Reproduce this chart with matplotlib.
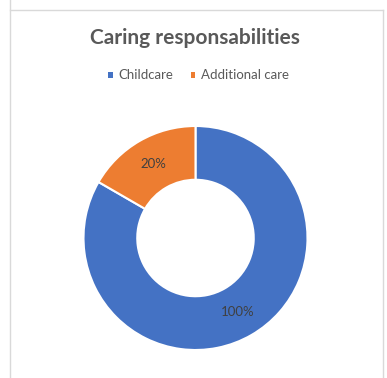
import matplotlib
matplotlib.use("Agg")
import matplotlib.pyplot as plt
from matplotlib.lines import Line2D
from matplotlib.patches import Rectangle

categories = ["Childcare", "Additional care"]
values = [100, 20]
colors = ["#4472C4", "#ED7D31"]
title = "Caring responsabilities"

W, H = 387, 378
fig = plt.figure(figsize=(W / 100, H / 100), dpi=100)
fig.patch.set_facecolor("white")

plt.rcParams["font.family"] = ["Lato", "DejaVu Sans"]

# chart frame
border = "#d9d9d9"
fig.add_artist(Line2D([9.5 / W, 382.5 / W], [1 - 9.5 / H, 1 - 9.5 / H], color=border, lw=1))
fig.add_artist(Line2D([9.5 / W, 9.5 / W], [0, 1], color=border, lw=1))
fig.add_artist(Line2D([382.5 / W, 382.5 / W], [0, 1 - 9.5 / H], color=border, lw=1))

# donut
cx, cy, r = 195.5, 238, 112
ax = fig.add_axes([(cx - r) / W, (H - cy - r) / H, 2 * r / W, 2 * r / H])
hole = 0.52
wedges, _, autotexts = ax.pie(
    values,
    colors=colors,
    startangle=90,
    counterclock=False,
    radius=1,
    wedgeprops=dict(width=1 - hole, edgecolor="white", linewidth=1.5),
    autopct=lambda p: "",
    pctdistance=(1 + hole) / 2,
)
for t, v in zip(autotexts, values):
    t.set_text(f"{v}%")
    t.set_color("#404040")
    t.set_fontsize(9.5)
ax.set_xlim(-1, 1)
ax.set_ylim(-1, 1)
ax.axis("off")

# title
fig.text(195 / W, 1 - 37.5 / H, title, ha="center", va="center",
         fontsize=15, fontweight="bold", color="#595959")

# legend
ly = 1 - 75 / H
sq = 5
for x0, label, c in [(110, categories[0], colors[0]), (193, categories[1], colors[1])]:
    fig.add_artist(Rectangle(((x0 - sq / 2) / W, ly - (sq / 2) / H), sq / W, sq / H,
                             facecolor=c, edgecolor="none", transform=fig.transFigure))
    fig.text((x0 + 8) / W, ly, label, ha="left", va="center", fontsize=9.5, color="#595959")

fig.savefig("out.png", dpi=100, facecolor="white")
